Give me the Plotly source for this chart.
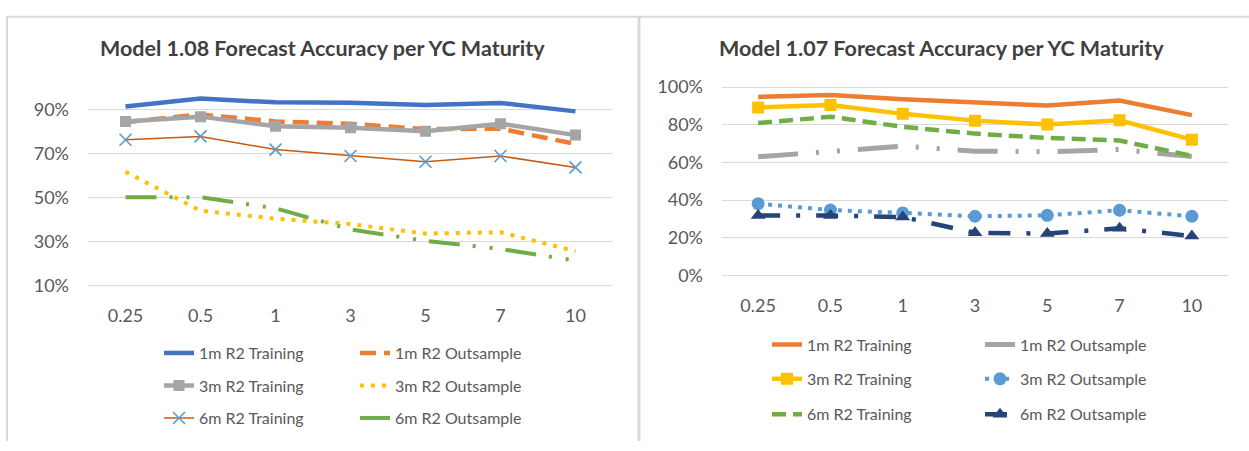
import plotly.graph_objects as go

# ---------------- data ----------------
maturities = ["0.25", "0.5", "1", "3", "5", "7", "10"]

# Model 1.08 (left)
m108_1m_train = [0.913, 0.949, 0.932, 0.930, 0.920, 0.929, 0.891]
m108_1m_out = [0.842, 0.877, 0.845, 0.835, 0.810, 0.812, 0.743]
m108_3m_train = [0.845, 0.867, 0.823, 0.816, 0.801, 0.835, 0.783]
m108_3m_out = [0.616, 0.439, 0.403, 0.378, 0.335, 0.341, 0.255]
m108_6m_train = [0.762, 0.777, 0.717, 0.688, 0.662, 0.688, 0.636]
m108_6m_out = [0.500, 0.500, 0.450, 0.354, 0.302, 0.265, 0.212]

# Model 1.07 (right)
m107_1m_train = [0.948, 0.958, 0.936, 0.919, 0.902, 0.929, 0.851]
m107_1m_out = [0.630, 0.655, 0.686, 0.660, 0.657, 0.669, 0.631]
m107_3m_train = [0.892, 0.905, 0.858, 0.822, 0.801, 0.824, 0.721]
m107_3m_out = [0.381, 0.347, 0.332, 0.314, 0.319, 0.346, 0.314]
m107_6m_train = [0.809, 0.843, 0.789, 0.753, 0.730, 0.716, 0.635]
m107_6m_out = [0.318, 0.318, 0.310, 0.226, 0.222, 0.250, 0.209]

series_names = ["1m R2 Training", "1m R2 Outsample", "3m R2 Training",
                "3m R2 Outsample", "6m R2 Training", "6m R2 Outsample"]

left_ticks = [0.1, 0.3, 0.5, 0.7, 0.9]
right_ticks = [0.0, 0.2, 0.4, 0.6, 0.8, 1.0]

titles = ["Model 1.08 Forecast Accuracy per YC Maturity",
          "Model 1.07 Forecast Accuracy per YC Maturity"]

# ---------------- layout helpers ----------------
W, H = 1249, 451
FONT = "Lato"
TXT = "#595959"
GRID = "#d9d9d9"


def px_x(p):
    return p / W


def px_y(p):
    return 1 - p / H


fig = go.Figure()

left_styles = [
    dict(line=dict(color="#4472C4", width=4.5), mode="lines"),
    dict(line=dict(color="#ED7D31", width=4.5, dash="16px,8px"), mode="lines"),
    dict(line=dict(color="#A5A5A5", width=4.5), mode="lines+markers",
         marker=dict(symbol="square", size=11, color="#A5A5A5")),
    dict(line=dict(color="#FFC000", width=4, dash="4px,7px"), mode="lines"),
    dict(line=dict(color="#C55A11", width=1.5), mode="lines+markers",
         marker=dict(symbol="x-thin", size=12, color="#5B9BD5",
                     line=dict(color="#5B9BD5", width=1.6))),
    dict(line=dict(color="#70AD47", width=4, dash="31px,13px,3px,14px,3px,13px"), mode="lines"),
]
right_styles = [
    dict(line=dict(color="#ED7D31", width=4.5), mode="lines"),
    dict(line=dict(color="#A5A5A5", width=5, dash="40px,18px,3px,18px,3px,18px"), mode="lines"),
    dict(line=dict(color="#FFC000", width=4.5), mode="lines+markers",
         marker=dict(symbol="square", size=12, color="#FFC000")),
    dict(line=dict(color="#5B9BD5", width=4, dash="4px,6px"), mode="lines+markers",
         marker=dict(symbol="circle", size=13, color="#5B9BD5")),
    dict(line=dict(color="#70AD47", width=4.5, dash="14px,7px"), mode="lines"),
    dict(line=dict(color="#264478", width=4.5, dash="22px,16px,4px,16px"), mode="lines+markers",
         marker=dict(symbol="triangle-up", size=13, color="#264478")),
]

left_data = [m108_1m_train, m108_1m_out, m108_3m_train, m108_3m_out, m108_6m_train, m108_6m_out]
right_data = [m107_1m_train, m107_1m_out, m107_3m_train, m107_3m_out, m107_6m_train, m107_6m_out]

left_rows = [359, 393, 427]
right_rows = [350, 386, 423]
left_cols = [200, 396]
right_cols = [808, 1021]
TEXT_OFFSET = 41

legend_layouts = {}
lid = 0
for data, styles, rows, cols, xa, ya in [
        (left_data, left_styles, left_rows, left_cols, "x", "y"),
        (right_data, right_styles, right_rows, right_cols, "x2", "y2")]:
    for i, (vals, st) in enumerate(zip(data, styles)):
        lid += 1
        key = "legend" if lid == 1 else f"legend{lid}"
        r, c = divmod(i, 2)
        fig.add_trace(go.Scatter(
            x=maturities, y=vals, name=series_names[i], xaxis=xa, yaxis=ya,
            legend=key, showlegend=True, hoverinfo="skip", **st))
        legend_layouts[key] = dict(
            x=px_x(cols[c] - TEXT_OFFSET), y=px_y(rows[r]),
            xanchor="left", yanchor="middle", orientation="h",
            bgcolor="rgba(0,0,0,0)", borderwidth=0,
            font=dict(family=FONT, size=16, color=TXT))

axis_common = dict(showgrid=False, zeroline=False, ticks="",
                   tickfont=dict(family=FONT, size=18, color=TXT))

fig.update_layout(
    width=W, height=H, margin=dict(l=0, r=0, t=0, b=0),
    paper_bgcolor="white", plot_bgcolor="white",
    xaxis=dict(domain=[px_x(88), px_x(613)], type="category", range=[-0.5, 6.5],
               anchor="y", showline=True, linecolor=GRID, linewidth=1.3,
               ticklabelstandoff=14, **axis_common),
    yaxis=dict(domain=[px_y(288), px_y(81)], range=[0.1, 1.0], anchor="x",
               tickvals=left_ticks, tickformat=".0%",
               showgrid=True, gridcolor=GRID, gridwidth=1.3, zeroline=False,
               ticks="", ticklabelstandoff=18,
               tickfont=dict(family=FONT, size=18, color=TXT)),
    xaxis2=dict(domain=[px_x(722), px_x(1228)], type="category", range=[-0.5, 6.5],
                anchor="y2", showline=True, linecolor=GRID, linewidth=1.3,
                ticklabelstandoff=14, **axis_common),
    yaxis2=dict(domain=[px_y(277.7), px_y(277.7 - 1.01 * 197)], range=[0, 1.01], anchor="x2",
                tickvals=right_ticks, tickformat=".0%",
                showgrid=True, gridcolor=GRID, gridwidth=1.3, zeroline=False,
                ticks="", ticklabelstandoff=18,
                tickfont=dict(family=FONT, size=18, color=TXT)),
    **legend_layouts,
)

for t, cx in zip(titles, [322, 941]):
    fig.add_annotation(text=f"<b>{t}</b>", x=px_x(cx), y=px_y(40), xref="paper", yref="paper",
                       xanchor="center", yanchor="middle", showarrow=False,
                       font=dict(family=FONT, size=21.5, color="#404040"))

border = dict(color=GRID, width=2)
fig.add_shape(type="line", xref="paper", yref="paper", x0=px_x(6), x1=1, y0=px_y(7), y1=px_y(7), line=border)
fig.add_shape(type="line", xref="paper", yref="paper", x0=px_x(7), x1=px_x(7), y0=px_y(7), y1=0, line=border)
fig.add_shape(type="line", xref="paper", yref="paper", x0=px_x(639), x1=px_x(639), y0=px_y(7), y1=0,
              line=dict(color=GRID, width=3))

fig.write_html(
    "out.html",
    config={"displayModeBar": False},
    post_script=("document.body.style.margin='0px';"
                 "document.body.style.overflow='hidden';"),
)
